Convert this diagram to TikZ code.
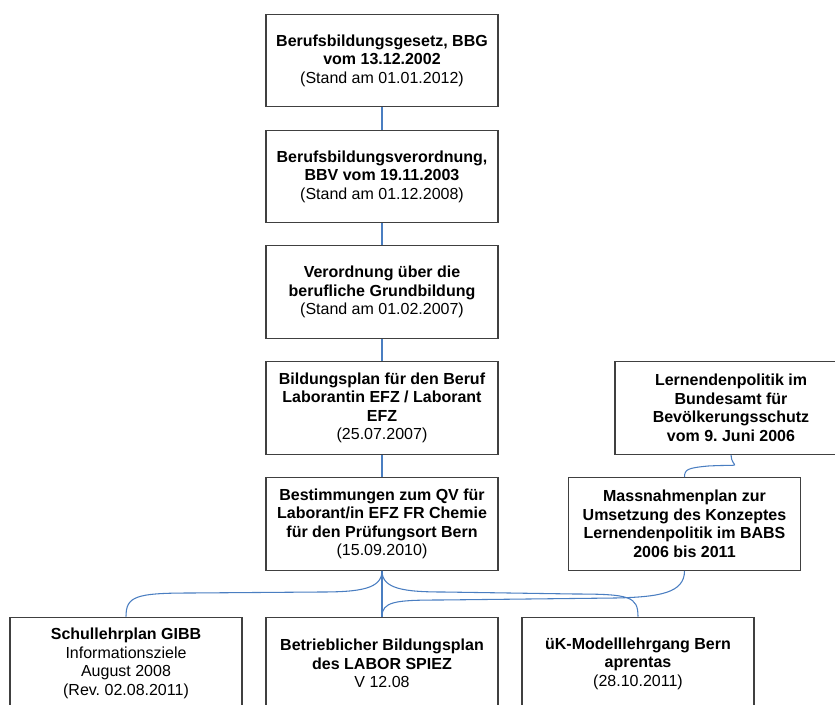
\documentclass[tikz,border=0pt]{standalone}
\usepackage{fontspec}
\setmainfont{Liberation Sans}
\frenchspacing
\definecolor{boxgray}{RGB}{64,64,64}
\definecolor{conblue}{RGB}{74,126,193}
\tikzset{
  box/.style={draw=boxgray, line width=0.8pt, fill=white, minimum width=174pt, minimum height=69.5pt,
    align=center, inner sep=0pt, font=\fontsize{12}{13.9}\selectfont},
  con/.style={draw=conblue, line width=0.8pt}
}
\begin{document}
\begin{tikzpicture}[x=0.75pt,y=-0.75pt]
\useasboundingbox (0,0) rectangle (835,704);
\clip (0,0) rectangle (835,704);
% main column
\node[box] (b1) at (382,60.5) {\textbf{Berufsbildungsgesetz, BBG}\\\textbf{vom 13.12.2002}\\(Stand am 01.01.2012)};
\node[box] (b2) at (382,176.5) {\textbf{Berufsbildungsverordnung,}\\\textbf{BBV vom 19.11.2003}\\(Stand am 01.12.2008)};
\node[box] (b3) at (382,292) {\textbf{Verordnung über die}\\\textbf{berufliche Grundbildung}\\(Stand am 01.02.2007)};
\node[box] (b4) at (382,408) {\textbf{Bildungsplan für den Beruf}\\\textbf{Laborantin EFZ / Laborant}\\\textbf{EFZ}\\(25.07.2007)};
\node[box] (b5) at (382,524) {\textbf{Bestimmungen zum QV für}\\\textbf{Laborant/in EFZ FR Chemie}\\\textbf{für den Prüfungsort Bern}\\(15.09.2010)};
% right column
\node[box] (r1) at (731,408) {\textbf{Lernendenpolitik im}\\\textbf{Bundesamt für}\\\textbf{Bevölkerungsschutz}\\\textbf{vom 9. Juni 2006}};
\node[box] (r2) at (684.5,524) {\textbf{Massnahmenplan zur}\\\textbf{Umsetzung des Konzeptes}\\\textbf{Lernendenpolitik im BABS}\\\textbf{2006 bis 2011}};
% bottom row
\node[box] (c1) at (126,663.5) {\textbf{Schullehrplan GIBB}\\Informationsziele\\August 2008\\(Rev. 02.08.2011)};
\node[box] (c2) at (382,663.5) {\textbf{Betrieblicher Bildungsplan}\\\textbf{des LABOR SPIEZ}\\V 12.08};
\node[box] (c3) at (638,663.5) {\textbf{üK-Modelllehrgang Bern}\\\textbf{aprentas}\\(28.10.2011)};
% connectors
\draw[con] (b1.south) -- (b2.north);
\draw[con] (b2.south) -- (b3.north);
\draw[con] (b3.south) -- (b4.north);
\draw[con] (b4.south) -- (b5.north);
\draw[con] (r1.south) .. controls +(0,14) and +(40,-2) .. (708,466) .. controls +(-20,2) and +(0,-8) .. (r2.north);
\coordinate (k1) at (320,592);
\coordinate (k2) at (190,593);
\draw[con] (b5.south) .. controls +(0,18) and +(40,0) .. (k1) -- (k2) .. controls +(-55,0) and +(0,-20) .. (c1.north);
\draw[con] (b5.south) -- (c2.north);
\coordinate (k3) at (444,592);
\coordinate (k4) at (575,594);
\draw[con] (b5.south) .. controls +(0,18) and +(-40,0) .. (k3) -- (k4) .. controls +(55,0) and +(0,-20) .. (c3.north);
\coordinate (k5) at (615,598);
\coordinate (k6) at (440,600);
\draw[con] (r2.south) .. controls +(0,22) and +(45,-1) .. (k5) -- (k6) .. controls +(-45,0) and +(0,-15) .. (c2.north);
\end{tikzpicture}
\end{document}
